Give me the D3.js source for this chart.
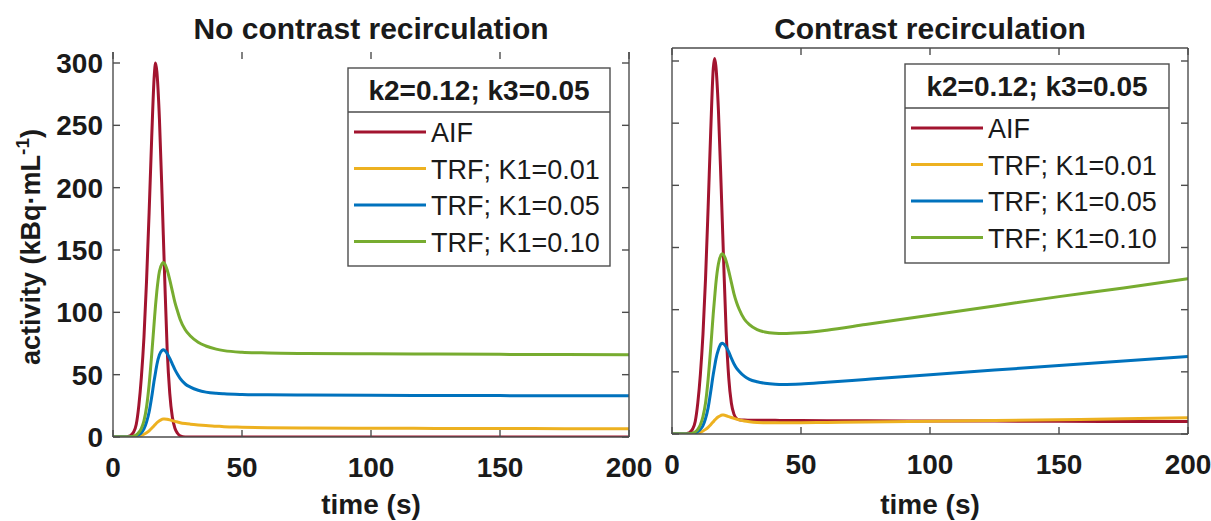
<!DOCTYPE html>
<html><head><meta charset="utf-8">
<script src="https://cdn.jsdelivr.net/npm/d3@7"></script>
<style>
body{margin:0;background:#fff}
svg{display:block}
text{font-family:"Liberation Sans",Arial,Helvetica,sans-serif;fill:#1a1a1a}
</style>
</head><body>
<svg id="c" width="1211" height="521"></svg>
<script>
// ---------------- data ----------------
const time = [0,5,6,7,8,9,10,11,12,13,14,15,16,16.5,17,18,19,19.5,20,21,22,23,24,25,26,28,30,33,36,40,43,50,60,75,100,125,150,175,200];

// No contrast recirculation
const aifNoRecirc = [0,0,0.5,1.5,4,10,25,48,80,125,180,240,290,300,293,255,195,162,130,70,35,16,7,3,1,0,0,0,0,0,0,0,0,0,0,0,0,0,0];
const trf001NoRecirc = [0,0,0,0,0.1,0.3,0.7,1.3,2.2,3.4,5,7,9.2,10.3,11.4,13,14.2,14.5,14.5,14.2,13.7,13.1,12.5,12,11.5,10.8,10.3,9.7,9.2,8.7,8.3,7.9,7.5,7.2,7,6.9,6.8,6.7,6.6];
const trf005NoRecirc = [0,0,0,0.1,0.3,0.8,1.8,3.5,6.5,12,20,32,46,52,58,66,69.5,70,69.5,67,63,58.5,54,50.3,47,42.5,40,37.5,36,35,34.6,34.1,33.8,33.6,33.4,33.3,33.2,33.1,33];
const trf010NoRecirc = [0,0,0,0.2,0.6,1.6,3.6,7,13,24,42,66,93,106,117,133,139,140,139,134,126,117,108,101,94.5,86,81,76,73,70.5,69.3,68,67.4,67,66.7,66.5,66.3,66.1,66];

// Contrast recirculation
const aifRecirc = [0,0,0.5,1.5,4,10,25,48,80,125,182,243,294,302,296,260,202,171,140,82,45,25,16,12.5,11.5,11.2,11.1,11,11,11,10.9,10.8,10.7,10.6,10.5,10.4,10.2,10.1,10];
const trf001Recirc = [0,0,0,0,0.1,0.3,0.7,1.4,2.4,3.7,5.4,7.5,9.8,11,12.1,13.8,15,15.3,15.2,14.7,14,13.3,12.6,12,11.4,10.5,9.9,9.3,9.1,9,9,9.1,9.3,9.6,10.2,10.8,11.5,12.2,13];
const trf005Recirc = [0,0,0,0.1,0.3,0.8,1.9,3.7,6.8,12.5,21,34,48,54,60,68,72.5,73,72.5,70,66,61,56.5,53,50.5,46.5,44,42,40.8,40,39.8,40.2,41.6,43.9,47.7,51.4,55,58.7,62.3];
const trf010Recirc = [0,0,0,0.2,0.6,1.7,3.8,7.4,14,25,44,69,97,109,121,137,144,145,144,139,131,122,113,106,100.5,92.5,88,84,82,81,80.8,81.4,83.5,88,95.5,103,110.5,117.5,125];

const seriesNames = ["AIF","TRF; K1=0.01","TRF; K1=0.05","TRF; K1=0.10"];
const seriesColors = ["#A2142F","#EDB120","#0072BD","#77AC30"];
const legendTitle = "k2=0.12; k3=0.05";
const panelTitles = ["No contrast recirculation","Contrast recirculation"];
const xTicks = [0,50,100,150,200];
const yTicks = [0,50,100,150,200,250,300];
const xLabel = "time (s)";

// ---------------- layout ----------------
const panels = [
  {title:panelTitles[0], series:[aifNoRecirc,trf001NoRecirc,trf005NoRecirc,trf010NoRecirc],
   x0:113, x1:629, yb:437, y300:63, top:52, yLabels:true, topLine:false,
   legend:{x:348, y:68, w:262, h:198}},
  {title:panelTitles[1], series:[aifRecirc,trf001Recirc,trf005Recirc,trf010Recirc],
   x0:672, x1:1188, yb:434, y300:61, top:48, yLabels:false, topLine:true,
   legend:{x:905, y:64, w:264, h:199}}
];

const svg = d3.select("#c");
const axisColor = "#4d4d4d";
const tickLen = 7;

panels.forEach(p => {
  const x = d3.scaleLinear().domain([0,200]).range([p.x0, p.x1]);
  const y = d3.scaleLinear().domain([0,300]).range([p.yb, p.y300]);
  const g = svg.append("g");

  const cid = "clip" + p.x0;
  svg.append("clipPath").attr("id", cid).append("rect")
    .attr("x", p.x0).attr("y", p.top).attr("width", p.x1-p.x0).attr("height", p.yb-p.top);

  const line = d3.line().x((d,i)=>x(time[i])).y(d=>y(d)).curve(d3.curveMonotoneX);
  p.series.forEach((s,k) => {
    g.append("path").attr("d", line(s)).attr("fill","none")
      .attr("stroke", seriesColors[k]).attr("stroke-width", 3)
      .attr("stroke-linejoin","round").attr("clip-path", `url(#${cid})`);
  });

  const ax = g.append("g").attr("stroke", axisColor).attr("stroke-width", 1.4).attr("fill","none");
  ax.append("line").attr("x1",p.x0).attr("x2",p.x1).attr("y1",p.yb).attr("y2",p.yb);
  ax.append("line").attr("x1",p.x0).attr("x2",p.x0).attr("y1",p.top).attr("y2",p.yb);
  ax.append("line").attr("x1",p.x1).attr("x2",p.x1).attr("y1",p.top).attr("y2",p.yb);
  if (p.topLine) ax.append("line").attr("x1",p.x0).attr("x2",p.x1).attr("y1",p.top).attr("y2",p.top);

  xTicks.forEach(t => {
    ax.append("line").attr("x1",x(t)).attr("x2",x(t)).attr("y1",p.yb).attr("y2",p.yb-tickLen);
    ax.append("line").attr("x1",x(t)).attr("x2",x(t)).attr("y1",p.top).attr("y2",p.top+tickLen);
  });
  yTicks.forEach(t => {
    ax.append("line").attr("x1",p.x0).attr("x2",p.x0+tickLen).attr("y1",y(t)).attr("y2",y(t));
    ax.append("line").attr("x1",p.x1).attr("x2",p.x1-tickLen).attr("y1",y(t)).attr("y2",y(t));
  });

  xTicks.forEach(t => {
    g.append("text").attr("x",x(t)).attr("y",p.yb+40).attr("text-anchor","middle")
      .attr("font-size",28).attr("font-weight","bold").text(t);
  });
  if (p.yLabels) {
    yTicks.forEach(t => {
      g.append("text").attr("x",p.x0-10).attr("y",y(t)+10).attr("text-anchor","end")
        .attr("font-size",28).attr("font-weight","bold").text(t);
    });
  }

  g.append("text").attr("x",(p.x0+p.x1)/2).attr("y",514).attr("text-anchor","middle")
    .attr("font-size",28).attr("font-weight","bold").text(xLabel);

  g.append("text").attr("x",(p.x0+p.x1)/2).attr("y",39).attr("text-anchor","middle")
    .attr("font-size",30).attr("font-weight","bold").text(p.title);

  const L = p.legend;
  const lg = g.append("g");
  lg.append("rect").attr("x",L.x).attr("y",L.y).attr("width",L.w).attr("height",L.h)
    .attr("fill","#fff").attr("stroke",axisColor).attr("stroke-width",1.4);
  lg.append("line").attr("x1",L.x).attr("x2",L.x+L.w).attr("y1",L.y+44).attr("y2",L.y+44)
    .attr("stroke",axisColor).attr("stroke-width",1.4);
  lg.append("text").attr("x",L.x+L.w/2).attr("y",L.y+32).attr("text-anchor","middle")
    .attr("font-size",28).attr("font-weight","bold").text(legendTitle);
  seriesNames.forEach((n,k) => {
    const yy = L.y + 64 + k*36.5;
    lg.append("line").attr("x1",L.x+6).attr("x2",L.x+78).attr("y1",yy).attr("y2",yy)
      .attr("stroke",seriesColors[k]).attr("stroke-width",3);
    lg.append("text").attr("x",L.x+83).attr("y",yy+10).attr("font-size",27).text(n);
  });
});

const yl = svg.append("text").attr("transform","translate(40,247) rotate(-90)")
  .attr("text-anchor","middle").attr("font-size",27).attr("font-weight","bold");
yl.append("tspan").text("activity (kBq·mL");
yl.append("tspan").attr("dy",-11).attr("font-size",19).text("-1");
yl.append("tspan").attr("dy",11).text(")");
</script>
</body></html>
